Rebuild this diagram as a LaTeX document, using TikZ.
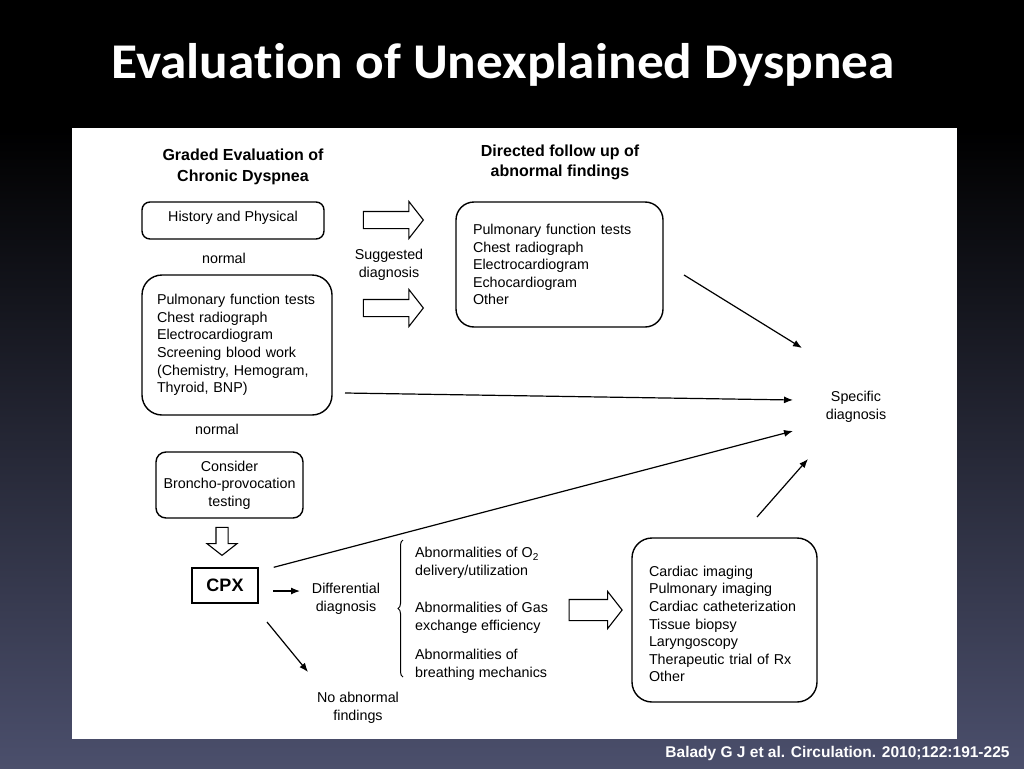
\documentclass[tikz,border=0pt]{standalone}
\usepackage{fontspec}
\newfontfamily\figfont{Liberation Sans}
\newfontfamily\titlefont{Carlito}[Ligatures=NoCommon, FakeStretch=1.067]
\usetikzlibrary{positioning, arrows.meta, shapes.arrows, decorations.pathreplacing}
\definecolor{slidebot}{RGB}{75,79,108}

\begin{document}
\begin{tikzpicture}[x=1pt,y=-1pt,
    font=\figfont\fontsize{14.3}{17.6}\selectfont,
    box/.style={draw, line width=1.4pt, inner sep=0pt, align=left},
    lbl/.style={inner sep=0pt, align=center},
    heading/.style={lbl, font=\figfont\bfseries\fontsize{16}{20.5}\selectfont},
    hollow/.style={draw, line width=1.1pt, single arrow, inner xsep=0pt,
        single arrow tip angle=104},
    link/.style={line width=1.2pt, -{Latex[length=9pt,width=7pt]}}
  ]
    % slide background and white panel
    \useasboundingbox (0,0) rectangle (1024,768);
    \fill[black] (0,0) rectangle (1024,768);
    \shade[top color=black, bottom color=slidebot] (0,130) rectangle (1024,768);
    \fill[white] (72,128) rectangle (957,739);

    \node[font=\titlefont\bfseries\fontsize{50}{60}\selectfont,
          text=white, anchor=base, inner sep=0pt
          ] (title) at (503,78) {Evaluation of Unexplained Dyspnea};

    % left column
    \node[heading] (gradedhd) at (243,167) {Graded Evaluation of\\Chronic Dyspnea};
    \node[box, align=center,
          rounded corners=8pt,
          minimum width=182pt, minimum height=37pt,
          text depth=9pt
          ] (hist) at (233,220.5) {History and Physical};
    \node[lbl] (normal1) at (224,258) {normal};
    \node[box,
          rounded corners=20pt,
          minimum width=190pt, minimum height=140pt,
          text width=160pt
          ] (screen) at (237,345) {Pulmonary function tests\\Chest radiograph\\Electrocardiogram\\Screening blood work\\(Chemistry, Hemogram,\\Thyroid, BNP)};
    \node[lbl] (normal2) at (217,429) {normal};
    \node[box, align=center,
          rounded corners=10pt,
          minimum width=147pt, minimum height=66pt
          ] (consider) at (229.5,485) {Consider\\Broncho-provocation\\testing};
    \node[hollow,
          minimum height=28pt, minimum width=29pt,
          inner ysep=5.5pt, single arrow head extend=9pt,
          rotate=-90
          ] (down) at (222,539) {};
    \node[box, align=center,
          font=\figfont\bfseries\fontsize{18}{20}\selectfont,
          minimum width=66pt, minimum height=35pt
          ] (cpx) at (225,585.5) {CPX};

    % suggested diagnosis
    \node[hollow,
          minimum height=60pt, minimum width=36pt,
          inner ysep=8pt, single arrow head extend=10pt
          ] (sugg1) at (390,220) {};
    \node[hollow,
          minimum height=60pt, minimum width=36pt,
          inner ysep=8pt, single arrow head extend=10pt
          ] (sugg2) at (390,308) {};
    \node[lbl] (suggested) at (389,264.5) {Suggested\\diagnosis};

    % directed follow up
    \node[heading] (followhd) at (560,162.5) {Directed follow up of\\abnormal findings};
    \node[box,
          rounded corners=18pt,
          minimum width=207pt, minimum height=125pt,
          text width=173pt
          ] (follow) at (559.5,264.5) {Pulmonary function tests\\Chest radiograph\\Electrocardiogram\\Echocardiogram\\Other};

    \node[lbl] (spec) at (856,407) {Specific\\diagnosis};

    % CPX branch
    \node[lbl] (diffdx) at (346,598.5) {Differential\\diagnosis};
    \node[lbl] (noabn) at (358,708) {No abnormal\\findings};
    \draw[decorate, decoration={brace, amplitude=5pt}, line width=1pt]
        (403,677) -- (403,540);
    \node[lbl, align=left, anchor=west] (abnoxy) at (415,563) {Abnormalities of O\textsubscript{2}\\delivery/utilization};
    \node[lbl, align=left, anchor=west] (abngas) at (415,618) {Abnormalities of Gas\\exchange efficiency};
    \node[lbl, align=left, anchor=west] (abnmech) at (415,665) {Abnormalities of\\breathing mechanics};
    \node[hollow,
          minimum height=53pt, minimum width=36pt,
          inner ysep=10pt, single arrow head extend=8pt
          ] (work) at (591.5,610) {};
    \node[box,
          rounded corners=20pt,
          minimum width=185pt, minimum height=164pt,
          text width=151pt, text depth=97.6pt
          ] (invest) at (724.5,620) {Cardiac imaging\\Pulmonary imaging\\Cardiac catheterization\\Tissue biopsy\\Laryngoscopy\\Therapeutic trial of Rx\\Other};

    \node[font=\figfont\bfseries\fontsize{15.5}{18}\selectfont,
          text=white, inner sep=0pt
          ] (cite) at (837.5,753) {Balady G J et al. Circulation. 2010;122:191-225};

    % connectors
    \coordinate (followout) at (684,275);
    \coordinate (screenout) at (345,393);
    \coordinate (investout) at (757,517);
    \coordinate (specA) at (802,348);
    \coordinate (specB) at (793,400);
    \coordinate (specC) at (793,431);
    \coordinate (specD) at (808,459);
    \coordinate (cpxright) at (273,591);
    \coordinate (diffin) at (300,591);
    \coordinate (cpxlow) at (267,622);
    \coordinate (noabnin) at (308,672);

    \draw[link] (followout) -- (specA);
    \draw[link] (screenout) -- (specB);
    \draw[link] ([xshift=15pt]cpx.north east) -- (specC);
    \draw[link] (investout) -- (specD);
    \draw[link] (cpxright) -- (diffin);
    \draw[link] (cpxlow) -- (noabnin);
\end{tikzpicture}
\end{document}
